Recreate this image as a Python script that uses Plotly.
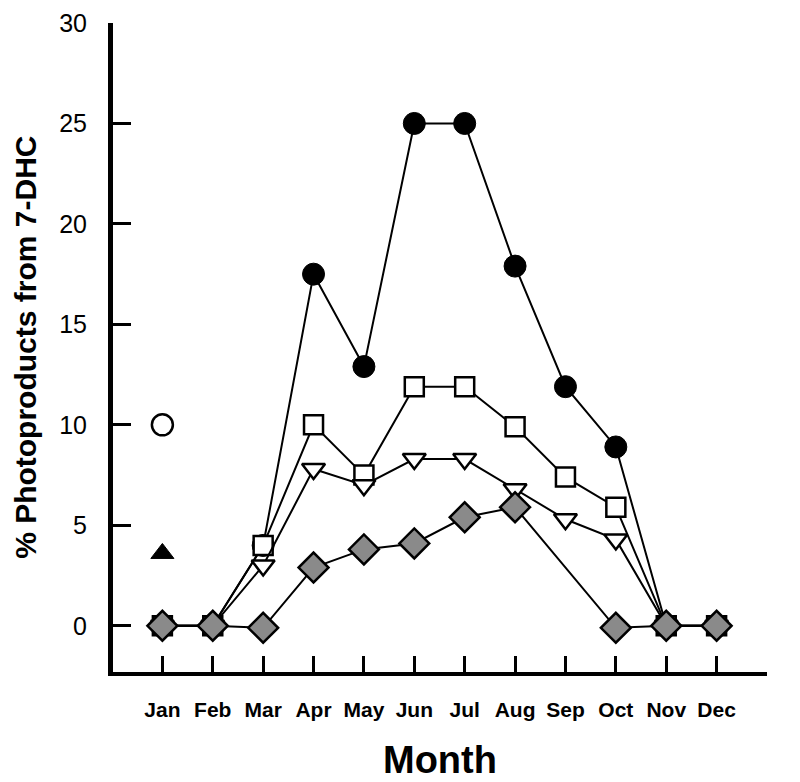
import plotly.graph_objects as go

months = ["Jan", "Feb", "Mar", "Apr", "May", "Jun", "Jul", "Aug", "Sep", "Oct", "Nov", "Dec"]
circle_vals = [0, 0, 4.0, 17.5, 12.9, 25.0, 25.0, 17.9, 11.9, 8.9, 0, 0]
square_vals = [0, 0, 4.0, 10.0, 7.5, 11.9, 11.9, 9.9, 7.4, 5.9, 0, 0]
triangle_vals = [0, 0, 3.0, 7.8, 7.0, 8.3, 8.3, 6.8, 5.3, 4.3, 0, 0]
diamond_vals = [0, 0, -0.1, 2.9, 3.8, 4.1, 5.4, 5.9, None, -0.1, 0, 0]
open_circle_month = ["Jan"]
open_circle_vals = [10.0]
filled_triangle_month = ["Jan"]
filled_triangle_vals = [3.6]
y_ticks = [0, 5, 10, 15, 20, 25, 30]

xi = list(range(len(months)))
mi = {m: i for i, m in enumerate(months)}

fig = go.Figure()
line = dict(color="black", width=2)

fig.add_trace(go.Scatter(x=xi, y=circle_vals, mode="lines+markers", line=line,
                         marker=dict(symbol="circle", size=22, color="black",
                                     line=dict(color="black", width=1))))
fig.add_trace(go.Scatter(x=xi, y=square_vals, mode="lines+markers", line=line,
                         marker=dict(symbol="square", size=19, color="white",
                                     line=dict(color="black", width=2.5))))
fig.add_trace(go.Scatter(x=xi, y=triangle_vals, mode="lines+markers", line=line,
                         marker=dict(symbol="triangle-down", size=20, color="white",
                                     line=dict(color="black", width=2.5))))
fig.add_trace(go.Scatter(x=xi, y=diamond_vals, mode="lines+markers", line=line,
                         connectgaps=True,
                         marker=dict(symbol="diamond", size=23, color="#8a8a8a",
                                     line=dict(color="black", width=2.5))))
fig.add_trace(go.Scatter(x=[mi[m] for m in open_circle_month], y=open_circle_vals, mode="markers",
                         marker=dict(symbol="circle", size=21, color="white",
                                     line=dict(color="black", width=2.5))))
fig.add_trace(go.Scatter(x=[mi[m] for m in filled_triangle_month], y=filled_triangle_vals, mode="markers",
                         marker=dict(symbol="triangle-up", size=20, color="black",
                                     line=dict(color="black", width=1))))

font_family = "Liberation Sans, Arial, sans-serif"

fig.update_layout(
    width=800, height=782,
    margin=dict(l=105, r=41, t=15, b=118),
    paper_bgcolor="white", plot_bgcolor="white",
    showlegend=False,
    font=dict(family=font_family, color="black"),
    xaxis=dict(
        range=[-0.98, 12.0],
        tickvals=xi + [12],
        ticktext=months + [""],
        ticks="inside", ticklen=16, tickwidth=2.5, tickcolor="black",
        showline=True, linewidth=4, linecolor="black",
        showgrid=False, zeroline=False, automargin=False,
        tickfont=dict(size=21, family=font_family, weight="bold"),
        ticklabelstandoff=16,
    ),
    yaxis=dict(
        range=[-2.3, 30.0],
        tickvals=y_ticks,
        ticks="inside", ticklen=18, tickwidth=3, tickcolor="black",
        showline=True, linewidth=5, linecolor="black",
        showgrid=False, zeroline=False, automargin=False,
        tickfont=dict(size=25, family=font_family),
        ticklabelstandoff=16,
        ticklabeloverflow="allow",
    ),
    annotations=[
        dict(text="<b>% Photoproducts from 7-DHC</b>", xref="paper", yref="paper",
             x=-0.134, y=0.5, xanchor="center", yanchor="middle", textangle=-90,
             showarrow=False, font=dict(size=30, family=font_family)),
        dict(text="<b>Month</b>", xref="paper", yref="paper",
             x=0.5, y=-0.135, xanchor="center", yanchor="middle",
             showarrow=False, font=dict(size=38, family=font_family)),
    ],
)

fig.write_html("out.html")
